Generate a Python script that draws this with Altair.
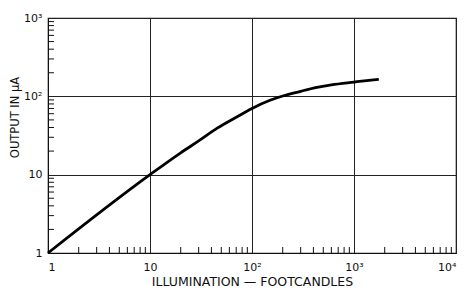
import altair as alt
import pandas as pd

# curve data
illum = [1, 10, 20, 30, 46, 70, 100, 150, 200, 300, 420, 600, 1000, 1400, 1750]
output = [1, 10, 19, 27, 39.5, 54, 70, 89, 101, 116, 129, 140, 152, 160, 165]

x_major = [1, 10, 100, 1000, 10000]
y_major = [1, 10, 100, 1000]
x_minor = [m * d for d in [1, 10, 100, 1000] for m in range(2, 10)]
y_minor = [m * d for d in [1, 10, 100] for m in range(2, 10)]

W, H = 408, 235
FONT = "DejaVu Sans"

curve = pd.DataFrame({"x": illum, "y": output})
xs = alt.Scale(type="log", domain=[1, 10000], nice=False)
ys = alt.Scale(type="log", domain=[1, 1000], nice=False)

x_lab = "datum.value == 1 ? '1' : datum.value == 10 ? '10' : datum.value == 100 ? '10²' : datum.value == 1000 ? '10³' : '10⁴'"
y_lab = "datum.value == 1 ? '1' : datum.value == 10 ? '10' : datum.value == 100 ? '10²' : '10³'"

line = alt.Chart(curve).mark_line(color="black", strokeWidth=2.8, interpolate="monotone").encode(
    x=alt.X("x:Q", scale=xs, title="ILLUMINATION — FOOTCANDLES",
            axis=alt.Axis(values=x_major, labelExpr=x_lab, grid=True, gridColor="#222", gridWidth=1,
                          gridOpacity=1, ticks=False, domainColor="#111", labelPadding=8,
                          labelFont=FONT, labelFontSize=11, labelColor="#111",
                          titleFont=FONT, titleFontSize=12.5, titleFontWeight="normal",
                          titleColor="#111", titlePadding=3)),
    y=alt.Y("y:Q", scale=ys, title="OUTPUT IN μA",
            axis=alt.Axis(values=y_major, labelExpr=y_lab, grid=True, gridColor="#222", gridWidth=1,
                          gridOpacity=1, ticks=False, domainColor="#111", labelPadding=6,
                          labelFont=FONT, labelFontSize=11, labelColor="#111",
                          titleFont=FONT, titleFontSize=11.5, titleFontWeight="normal",
                          titleColor="#111", titleX=-30, titleY=99, titleBaseline="alphabetic")),
)

xminor = alt.Chart(pd.DataFrame({"v": x_minor})).mark_rule(color="#111", strokeWidth=1).encode(
    x=alt.X("v:Q", scale=xs), y=alt.value(H), y2=alt.value(H - 6)
)
yminor = alt.Chart(pd.DataFrame({"v": y_minor})).mark_rule(color="#111", strokeWidth=1).encode(
    y=alt.Y("v:Q", scale=ys), x=alt.value(0), x2=alt.value(6)
)

chart = alt.layer(xminor, yminor, line).properties(
    width=W, height=H,
    autosize=alt.AutoSizeParams(type="none"),
    padding={"left": 40, "top": 10, "right": 3, "bottom": 38},
).configure_view(stroke="#111", strokeWidth=1.2)

chart.save("out.html", embed_options={"renderer": "svg", "actions": False})
